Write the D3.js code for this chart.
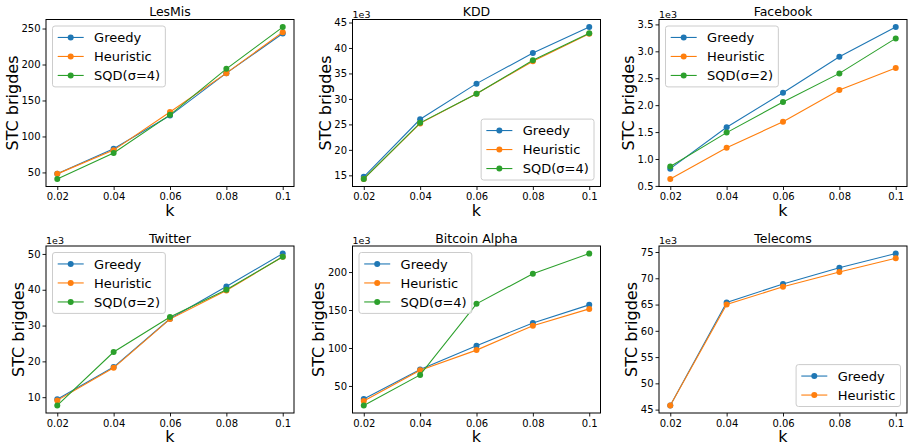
<!DOCTYPE html>
<html>
<head>
<meta charset="utf-8">
<script src="https://cdn.jsdelivr.net/npm/d3@7"></script>
<style>
  body { margin: 0; background: #fff; }
  svg { display: block; font-family: "DejaVu Sans", sans-serif; }
</style>
</head>
<body>
<div id="chart"></div>
<script>
// data (k on x, STC bridges on y)
var kValues = [0.02, 0.04, 0.06, 0.08, 0.1];
var kTickLabels = ["0.02", "0.04", "0.06", "0.08", "0.1"];

var lesmisGreedy = [48, 83, 129, 188, 243];
var lesmisHeuristic = [48, 81, 134, 188, 245];
var lesmisSqd = [41, 77, 130, 194, 252];
var lesmisTicks = [50, 100, 150, 200, 250];

var kddGreedy = [14.7, 26.0, 33.0, 39.0, 44.1];
var kddHeuristic = [14.3, 25.2, 31.0, 37.4, 42.8];
var kddSqd = [14.3, 25.3, 31.0, 37.6, 42.9];
var kddTicks = [15, 20, 25, 30, 35, 40, 45];

var facebookGreedy = [0.82, 1.59, 2.23, 2.90, 3.45];
var facebookHeuristic = [0.63, 1.21, 1.69, 2.28, 2.69];
var facebookSqd = [0.86, 1.49, 2.06, 2.59, 3.24];
var facebookTicks = [0.5, 1.0, 1.5, 2.0, 2.5, 3.0, 3.5];

var twitterGreedy = [9.4, 18.4, 31.9, 40.9, 50.1];
var twitterHeuristic = [9.1, 18.2, 31.8, 39.8, 49.2];
var twitterSqd = [7.7, 22.6, 32.4, 40.0, 49.2];
var twitterTicks = [10, 20, 30, 40, 50];

var bitcoinGreedy = [32.8, 71.6, 103, 133, 156.8];
var bitcoinHeuristic = [30.1, 70.7, 97.2, 129.4, 151.5];
var bitcoinSqd = [24.4, 64.6, 158.1, 197.8, 224.3];
var bitcoinTicks = [50, 100, 150, 200];

var telecomsGreedy = [45.8, 65.4, 68.9, 72.0, 74.7];
var telecomsHeuristic = [45.8, 65.0, 68.4, 71.2, 73.8];
var telecomsTicks = [45, 50, 55, 60, 65, 70, 75];

var colors = ["#1f77b4", "#ff7f0e", "#2ca02c"];

var panels = [
  { title: "LesMis", ticks: lesmisTicks, fmt: d3.format("d"), offset: false, legend: "ul",
    series: [["Greedy", lesmisGreedy], ["Heuristic", lesmisHeuristic], ["SQD(σ=4)", lesmisSqd]] },
  { title: "KDD", ticks: kddTicks, fmt: d3.format("d"), offset: true, legend: "lr",
    series: [["Greedy", kddGreedy], ["Heuristic", kddHeuristic], ["SQD(σ=4)", kddSqd]] },
  { title: "Facebook", ticks: facebookTicks, fmt: d3.format(".1f"), offset: true, legend: "ul",
    series: [["Greedy", facebookGreedy], ["Heuristic", facebookHeuristic], ["SQD(σ=2)", facebookSqd]] },
  { title: "Twitter", ticks: twitterTicks, fmt: d3.format("d"), offset: true, legend: "ul",
    series: [["Greedy", twitterGreedy], ["Heuristic", twitterHeuristic], ["SQD(σ=2)", twitterSqd]] },
  { title: "Bitcoin Alpha", ticks: bitcoinTicks, fmt: d3.format("d"), offset: true, legend: "ul",
    series: [["Greedy", bitcoinGreedy], ["Heuristic", bitcoinHeuristic], ["SQD(σ=4)", bitcoinSqd]] },
  { title: "Telecoms", ticks: telecomsTicks, fmt: d3.format("d"), offset: true, legend: "lr",
    series: [["Greedy", telecomsGreedy], ["Heuristic", telecomsHeuristic]] }
];

// layout
var svgWidth = 909;
var svgHeight = 447;
var colLeft = [46, 352.5, 659];
var rowTop = [19.5, 246];
var axW = 248;
var axH = 167;

var svg = d3.select("#chart")
  .append("svg")
  .attr("width", svgWidth)
  .attr("height", svgHeight);

panels.forEach(function(p, i) {
  var left = colLeft[i % 3];
  var top = rowTop[Math.floor(i / 3)];

  var g = svg.append("g")
    .attr("transform", `translate(${left}, ${top})`);

  // x scale with matplotlib-like 5% margins
  var xPad = (d3.max(kValues) - d3.min(kValues)) * 0.05;
  var x = d3.scaleLinear()
    .domain([d3.min(kValues) - xPad, d3.max(kValues) + xPad])
    .range([0, axW]);

  var allVals = [];
  p.series.forEach(s => allVals = allVals.concat(s[1]));
  var yMin = d3.min(allVals), yMax = d3.max(allVals);
  var yPad = (yMax - yMin) * 0.05;
  var y = d3.scaleLinear()
    .domain([yMin - yPad, yMax + yPad])
    .range([axH, 0]);

  // axes
  var bottomAxis = d3.axisBottom(x)
    .tickValues(kValues)
    .tickFormat((d, j) => kTickLabels[j])
    .tickSize(3.5)
    .tickPadding(3);
  var leftAxis = d3.axisLeft(y)
    .tickValues(p.ticks)
    .tickFormat(p.fmt)
    .tickSize(3.5)
    .tickPadding(2);

  var xAxis = g.append("g")
    .attr("transform", `translate(0, ${axH})`)
    .call(bottomAxis);
  var yAxis = g.append("g")
    .call(leftAxis);

  [xAxis, yAxis].forEach(function(a) {
    a.select(".domain").remove();
    a.selectAll("text").attr("font-size", 10).attr("fill", "#000")
      .attr("font-family", "DejaVu Sans, sans-serif");
    a.selectAll("line").attr("stroke", "#000").attr("stroke-width", 0.9);
  });

  // lines and markers
  var line = d3.line()
    .x((d, j) => x(kValues[j]))
    .y(d => y(d));

  p.series.forEach(function(s, si) {
    g.append("path")
      .datum(s[1])
      .attr("d", line)
      .attr("fill", "none")
      .attr("stroke", colors[si])
      .attr("stroke-width", 1.1);
    g.selectAll(".pt" + si)
      .data(s[1])
      .enter()
      .append("circle")
      .attr("cx", (d, j) => x(kValues[j]))
      .attr("cy", d => y(d))
      .attr("r", 3)
      .attr("fill", colors[si]);
  });

  // frame
  g.append("rect")
    .attr("x", 0)
    .attr("y", 0)
    .attr("width", axW)
    .attr("height", axH)
    .attr("fill", "none")
    .attr("stroke", "#000")
    .attr("stroke-width", 1);

  // title
  g.append("text")
    .attr("x", axW / 2)
    .attr("y", -3.5)
    .attr("text-anchor", "middle")
    .attr("font-size", 12.5)
    .text(p.title);

  // offset text
  if (p.offset) {
    g.append("text")
      .attr("x", 0)
      .attr("y", -2)
      .attr("font-size", 9.5)
      .text("1e3");
  }

  // axis labels
  g.append("text")
    .attr("x", axW / 2)
    .attr("y", axH + 29)
    .attr("text-anchor", "middle")
    .attr("font-size", 16)
    .text("k");

  var bb = yAxis.node().getBBox();
  g.append("text")
    .attr("transform", `translate(${bb.x - 3.5}, ${axH / 2}) rotate(-90)`)
    .attr("text-anchor", "middle")
    .attr("font-size", 16)
    .text("STC brigdes");

  // legend
  var fs = 13, pad = 0.4 * fs, rowH = 12.5, gap = 0.5 * fs, handleLen = 2 * fs, textPad = 0.8 * fs;
  var lg = g.append("g");
  var frame = lg.append("rect");
  var maxW = 0;
  p.series.forEach(function(s, si) {
    var cy = pad + rowH / 2 + si * (rowH + gap);
    lg.append("line")
      .attr("x1", pad).attr("x2", pad + handleLen)
      .attr("y1", cy).attr("y2", cy)
      .attr("stroke", colors[si]).attr("stroke-width", 1.1);
    lg.append("circle")
      .attr("cx", pad + handleLen / 2).attr("cy", cy).attr("r", 3)
      .attr("fill", colors[si]);
    var t = lg.append("text")
      .attr("x", pad + handleLen + textPad)
      .attr("y", cy + 4.7)
      .attr("font-size", fs)
      .text(s[0]);
    maxW = Math.max(maxW, t.node().getComputedTextLength());
  });
  var lw = pad * 2 + handleLen + textPad + maxW;
  var lh = pad * 2 + p.series.length * rowH + (p.series.length - 1) * gap;
  frame.attr("width", lw).attr("height", lh)
    .attr("rx", 2.5)
    .attr("fill", "#fff").attr("fill-opacity", 0.8)
    .attr("stroke", "#cccccc").attr("stroke-width", 1);
  var lx = p.legend === "ul" ? 0.5 * fs : axW - 0.5 * fs - lw;
  var ly = p.legend === "ul" ? 0.5 * fs : axH - 0.5 * fs - lh;
  lg.attr("transform", `translate(${lx}, ${ly})`);
});
</script>
</body>
</html>
